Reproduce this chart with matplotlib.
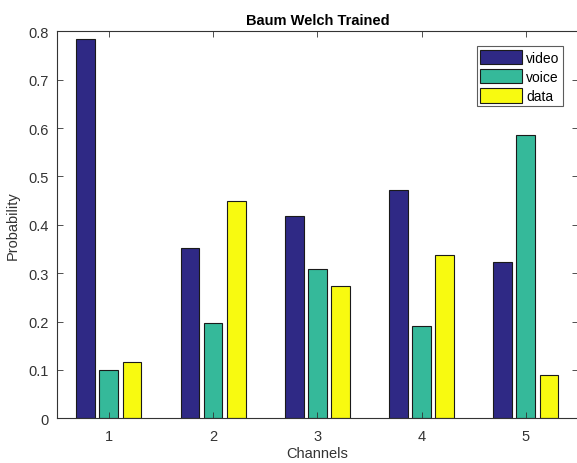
import matplotlib.pyplot as plt
import numpy as np

plt.rcParams['font.family'] = ['Liberation Sans', 'DejaVu Sans']

channels = [1, 2, 3, 4, 5]
video = [0.785, 0.352, 0.419, 0.471, 0.324]
voice = [0.100, 0.198, 0.309, 0.191, 0.586]
data = [0.116, 0.449, 0.273, 0.338, 0.090]

series = [('video', video, '#2f2985'), ('voice', voice, '#35b99a'), ('data', data, '#f8fa10')]

fig = plt.figure(figsize=(5.77, 4.64), dpi=100)
ax = fig.add_axes([0.0983, 0.0963, 0.9034, 0.834])

x = np.array(channels)
w = 0.18
offsets = [-0.222, 0.0, 0.222]
for (name, vals, col), off in zip(series, offsets):
    ax.bar(x + off, vals, w, color=col, edgecolor='#1a1a1a', linewidth=0.8, label=name)

ax.set_xlim(0.5, 5.5)
ax.set_ylim(0, 0.8)
ax.set_xticks(channels)
ax.set_yticks(np.arange(0, 0.81, 0.1))
ax.set_yticklabels(['0', '0.1', '0.2', '0.3', '0.4', '0.5', '0.6', '0.7', '0.8'])

axcol = '#333333'
for s in ax.spines.values():
    s.set_color(axcol)
    s.set_linewidth(0.8)
# right edge of the box sits just past the figure border
ax.spines['right'].set_visible(False)
ax.tick_params(direction='in', top=True, right=True, length=4, width=0.6,
               colors=axcol, labelsize=10.5, pad=6)
ax.tick_params(axis='x', pad=8)

ax.set_xlabel('Channels', fontsize=10.5, color=axcol, labelpad=2)
ax.set_ylabel('Probability', fontsize=10.5, color=axcol, labelpad=6)
ax.set_title('Baum Welch Trained', fontsize=10.5, fontweight='bold', pad=5)

leg = ax.legend(loc='upper right', bbox_to_anchor=(0.971, 0.962), fancybox=False,
                frameon=True, edgecolor='#333333', fontsize=10,
                handlelength=3.0, handleheight=1.25, handletextpad=0.3,
                labelspacing=0.3, borderpad=0.25, borderaxespad=0.0)
leg.get_frame().set_linewidth(0.8)

fig.savefig('out.png', dpi=100)
